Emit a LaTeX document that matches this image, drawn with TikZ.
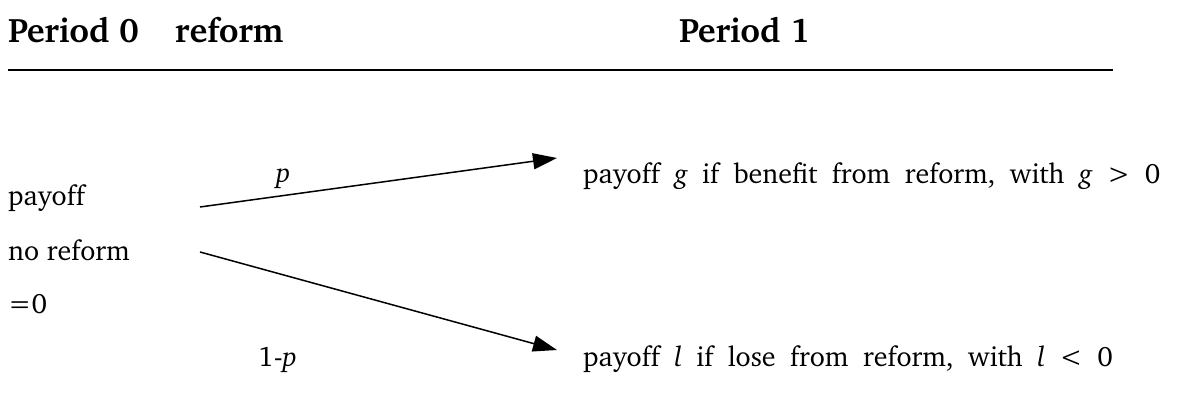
\documentclass[tikz,border=0pt]{standalone}
\usepackage[T1]{fontenc}
\usepackage{charter}
\usetikzlibrary{arrows.meta}
\newcommand\widespaces{\spaceskip=14.5pt\relax}
\tikzset{
  head/.style={anchor=base west, inner sep=0pt, font=\fontsize{34}{40}\selectfont\bfseries},
  body/.style={anchor=base west, inner sep=0pt, font=\fontsize{28}{34}\selectfont},
  branch/.style={line width=1.5pt, -{Triangle[length=24pt,width=16pt]}},
}
\begin{document}
\begin{tikzpicture}[x=1pt,y=-1pt]
\useasboundingbox (0,0) rectangle (1177,417);
\node[head] (h0) at (8,43) {Period 0};
\node[head] (hr) at (175,43) {reform};
\node[head] (h1) at (679,43) {Period 1};
\coordinate (rl) at (8,70);
\coordinate (rr) at (1113,70);
\draw[line width=1.5pt] (rl) -- (rr);
\node[body] (l1) at (8,205) {payoff};
\node[body] (l2) at (8,260) {no reform};
\node[body] (l3) at (8,313) {=0};
\node[body] (pp) at (276,182) {\textit{p}};
\node[body] (qp) at (258,366) {1-\textit{p}};
\node[body] (r1) at (583,183) {\widespaces payoff \textit{g} if benefit from reform, with \textit{g} > 0};
\node[body] (r2) at (583,366) {\widespaces payoff \textit{l} if lose from reform, with \textit{l} < 0};
\coordinate (s1) at (200,207);
\coordinate (t1) at (557,158);
\coordinate (s2) at (200,252);
\coordinate (t2) at (557,350);
\draw[branch] (s1) -- (t1);
\draw[branch] (s2) -- (t2);
\end{tikzpicture}
\end{document}
